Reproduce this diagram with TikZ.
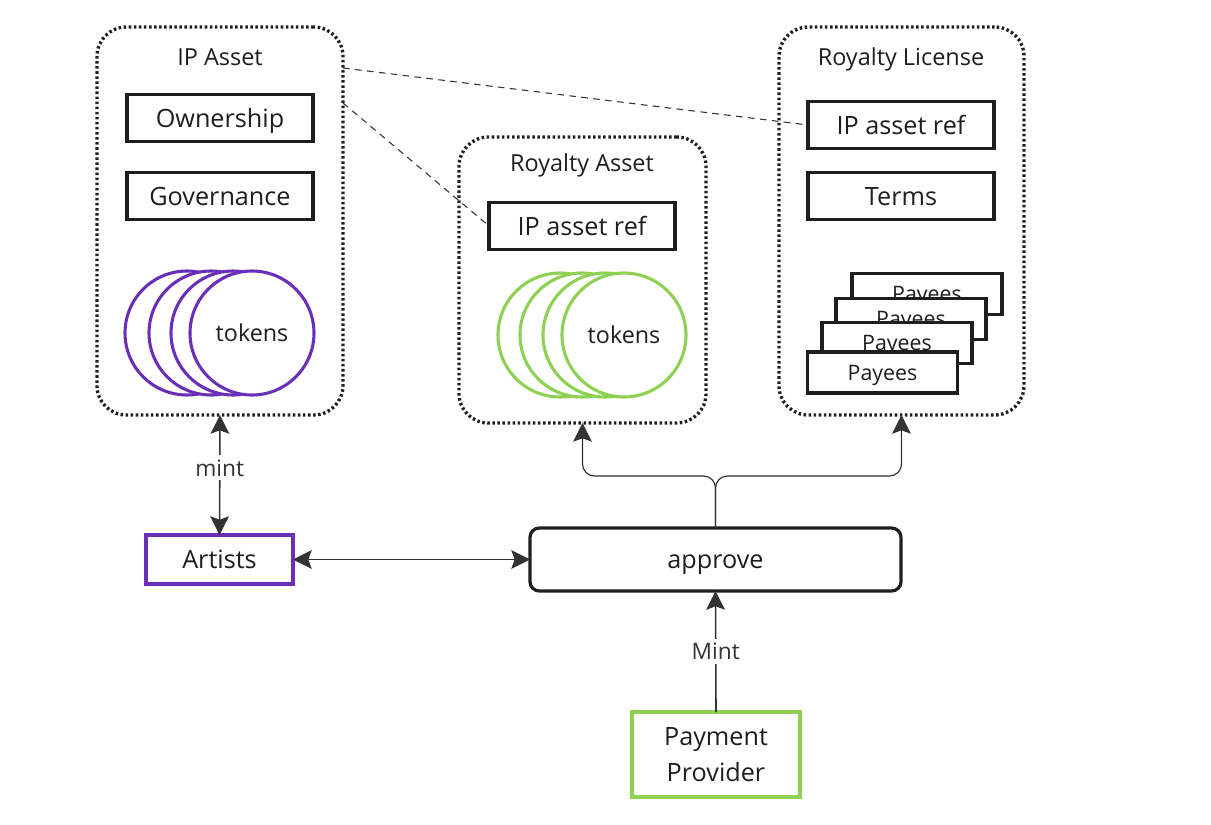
\documentclass[tikz,border=0pt]{standalone}
\usepackage{fontspec}
\setmainfont{Open Sans}
\usetikzlibrary{arrows.meta,calc}
\definecolor{ink}{HTML}{1E1E1E}
\definecolor{lnk}{HTML}{333333}
\definecolor{purp}{HTML}{6A2FB8}
\definecolor{grn}{HTML}{8CD152}
\tikzset{mytip/.tip={Stealth[length=14pt,width=14pt,inset=2.5pt]}}
\begin{document}
\begin{tikzpicture}[x=0.75pt,y=-0.75pt,
  every node/.style={text=ink, inner sep=0pt, outer sep=0pt},
  container/.style={draw=ink, line width=2.5pt, dash pattern=on 1.9pt off 1.9pt, rounded corners=22pt, rectangle},
  ctitle/.style={font=\fontsize{17.6pt}{20pt}\selectfont, text height=12.6pt, text depth=0pt},
  box/.style={draw=ink, line width=2.4pt, fill=white, rectangle, minimum width=139.5pt, minimum height=35.25pt, font=\fontsize{18.9pt}{22pt}\selectfont, text height=13.5pt, text depth=0pt},
  paybox/.style={draw=ink, line width=2.4pt, fill=white, rectangle, minimum width=112.5pt, minimum height=30.75pt, font=\fontsize{16pt}{20pt}\selectfont, text height=11.4pt, text depth=0pt},
  ptoken/.style={circle, draw=purp, line width=2.3pt, fill=white, minimum size=93pt, font=\fontsize{17.5pt}{20pt}\selectfont},
  gtoken/.style={circle, draw=grn, line width=2.3pt, fill=white, minimum size=93pt, font=\fontsize{17.5pt}{20pt}\selectfont},
  arr/.style={draw=lnk, line width=1.2pt, -{mytip}},
  darr/.style={draw=lnk, line width=1.2pt, {mytip}-{mytip}},
  elabel/.style={fill=white, inner sep=3pt, text=lnk, font=\fontsize{17pt}{20pt}\selectfont},
  dashlink/.style={draw=lnk, line width=0.8pt, dash pattern=on 5pt off 4pt}
]
\useasboundingbox (0,0) rectangle (1211,825);

% containers
\node[container, minimum width=184.5pt, minimum height=291pt] (ipa) at (220,221) {};
\node[ctitle] (ipat) at (220,57) {IP Asset};
\node[container, minimum width=185.25pt, minimum height=214.5pt] (ra) at (582.5,280) {};
\node[ctitle] (rat) at (582,163) {Royalty Asset};
\node[container, minimum width=183.75pt, minimum height=291pt] (rl) at (901.5,221) {};
\node[ctitle] (rlt) at (901,57) {Royalty License};

% IP asset content
\node[box] (own) at (220,118) {Ownership};
\node[box] (gov) at (220,196) {Governance};
\node[ptoken] (pt1) at (187,333) {};
\node[ptoken] (pt2) at (211,333) {};
\node[ptoken] (pt3) at (233,333) {};
\node[ptoken] (pt4) at (252,333) {tokens};

% Royalty asset content
\node[box] (raref) at (582,226) {IP asset ref};
\node[gtoken] (gt1) at (560,335) {};
\node[gtoken] (gt2) at (582,335) {};
\node[gtoken] (gt3) at (605,335) {};
\node[gtoken] (gt4) at (624,335) {tokens};

% Royalty license content
\node[box] (rlref) at (901,125) {IP asset ref};
\node[box] (terms) at (901,196) {Terms};
\node[paybox] (pay1) at (927,294) {Payees};
\node[paybox] (pay2) at (911,319) {Payees};
\node[paybox] (pay3) at (897,343) {Payees};
\node[paybox] (pay4) at (882.5,372.5) {Payees};

% lower nodes
\node[box, draw=purp, fill=none, minimum width=110.25pt, minimum height=36.75pt] (art) at (219.5,559.5) {Artists};
\node[box, fill=none, rounded corners=7pt, minimum width=278.25pt, minimum height=47.25pt] (appr) at (715.5,559.5) {approve};
\node[draw=grn, line width=2.3pt, rectangle, minimum width=126pt, minimum height=63.75pt, align=center, font=\fontsize{18.9pt}{26.5pt}\selectfont] (pp) at (716,754.5) {Payment\\Provider};

% dashed links
\draw[dashlink] ($(ipa.north east)+(0,41)$) -- (rlref.west);
\draw[dashlink] ($(ipa.north east)+(0,76)$) -- (raref.west);

% connectors
\draw[darr] (ipa.south) -- node[elabel, pos=0.44] {mint} (art.north);
\draw[darr] (art.east) -- (appr.west);
\draw[arr] (pp.north) -- node[elabel] {Mint} (appr.south);
\draw[arr, line width=0.9pt, rounded corners=9pt] (appr.north) -- ++(0,-52) -| (ra.south);
\draw[arr, line width=0.9pt, rounded corners=9pt] (appr.north) -- ++(0,-52) -| (rl.south);
\end{tikzpicture}
\end{document}
